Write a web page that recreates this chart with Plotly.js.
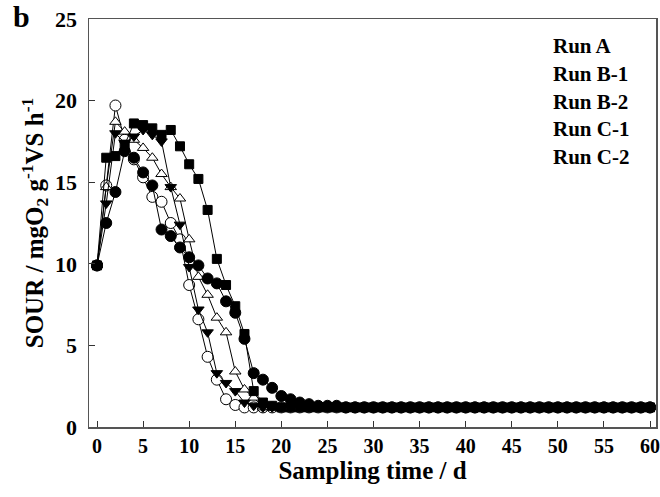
<!DOCTYPE html>
<html>
<head>
<meta charset="utf-8">
<script src="https://cdn.plot.ly/plotly-3.0.1.min.js"></script>
<style>html,body{margin:0;padding:0;background:#fff;}#chart{width:660px;height:497px;}</style>
</head>
<body>
<div id="chart"></div>
<script>
var days = [0,1,2,3,4,5,6,7,8,9,10,11,12,13,14,15,16,17,18,19,20,21,22,23,24,25,26,27,28,29,30,31,32,33,34,35,36,37,38,39,40,41,42,43,44,45,46,47,48,49,50,51,52,53,54,55,56,57,58,59,60];

var runA = [9.9,12.5,14.4,16.9,16.5,15.6,14.8,12.1,11.7,11.0,10.4,9.9,9.1,8.8,7.7,7.0,5.4,3.3,2.9,2.4,1.9,1.7,1.5,1.4,1.3,1.3,1.3,1.2,1.2,1.2,1.2,1.2,1.2,1.2,1.2,1.2,1.2,1.2,1.2,1.2,1.2,1.2,1.2,1.2,1.2,1.2,1.2,1.2,1.2,1.2,1.2,1.2,1.2,1.2,1.2,1.2,1.2,1.2,1.2,1.2,1.2];
var runB1 = [9.9,14.8,19.7,17.6,16.4,15.3,14.1,13.8,12.5,11.5,8.7,6.6,4.3,2.9,1.7,1.35,1.2,1.2,1.2,1.2,1.2,1.2,1.2,1.2,1.2,1.2,1.2,1.2,1.2,1.2,1.2,1.2,1.2,1.2,1.2,1.2,1.2,1.2,1.2,1.2,1.2,1.2,1.2,1.2,1.2,1.2,1.2,1.2,1.2,1.2,1.2,1.2,1.2,1.2,1.2,1.2,1.2,1.2,1.2,1.2,1.2];
var runB2 = [9.9,13.7,18.0,17.4,17.8,18.2,17.9,17.5,14.7,12.4,9.8,7.2,5.8,3.3,2.7,2.2,1.5,1.3,1.2,1.2,1.2,1.2,1.2,1.2,1.2,1.2,1.2,1.2,1.2,1.2,1.2,1.2,1.2,1.2,1.2,1.2,1.2,1.2,1.2,1.2,1.2,1.2,1.2,1.2,1.2,1.2,1.2,1.2,1.2,1.2,1.2,1.2,1.2,1.2,1.2,1.2,1.2,1.2,1.2,1.2,1.2];
var runC1 = [9.9,14.7,18.7,18.1,17.6,17.1,16.5,15.5,14.7,14.0,11.5,9.2,8.1,6.7,5.8,3.4,2.3,1.8,1.2,1.2,1.2,1.2,1.2,1.2,1.2,1.2,1.2,1.2,1.2,1.2,1.2,1.2,1.2,1.2,1.2,1.2,1.2,1.2,1.2,1.2,1.2,1.2,1.2,1.2,1.2,1.2,1.2,1.2,1.2,1.2,1.2,1.2,1.2,1.2,1.2,1.2,1.2,1.2,1.2,1.2,1.2];
var runC2 = [9.9,16.5,16.6,17.3,18.6,18.5,18.3,17.9,18.2,17.2,16.1,15.2,13.3,10.3,8.7,7.4,5.7,2.2,1.5,1.3,1.2,1.2,1.2,1.2,1.2,1.2,1.2,1.2,1.2,1.2,1.2,1.2,1.2,1.2,1.2,1.2,1.2,1.2,1.2,1.2,1.2,1.2,1.2,1.2,1.2,1.2,1.2,1.2,1.2,1.2,1.2,1.2,1.2,1.2,1.2,1.2,1.2,1.2,1.2,1.2,1.2];

var seriesNames = ["Run A","Run B-1","Run B-2","Run C-1","Run C-2"];
var xTicks = [0,5,10,15,20,25,30,35,40,45,50,55,60];
var yTicks = [0,5,10,15,20,25];

function tr(y, name, symbol, fill, size) {
  return {
    x: days, y: y, name: name, type: 'scatter', mode: 'lines+markers',
    line: {color: '#000', width: 1},
    marker: {symbol: symbol, size: size, color: fill, line: {color: '#000', width: 1}},
    showlegend: false
  };
}

var data = [
  tr(runB1, seriesNames[1], 'circle', '#fff', 11),
  tr(runC1, seriesNames[3], 'triangle-up', '#fff', 10),
  tr(runB2, seriesNames[2], 'triangle-down', '#000', 10),
  tr(runC2, seriesNames[4], 'square', '#000', 9),
  tr(runA, seriesNames[0], 'circle', '#000', 11)
];

var fontFam = '"Liberation Serif", "Times New Roman", serif';
var annotations = [{
  text: '<b>b</b>', xref: 'paper', yref: 'paper', x: -0.138, y: 1.052,
  xanchor: 'left', yanchor: 'top', showarrow: false,
  font: {family: fontFam, size: 30, color: '#000'}
}];
for (var i = 0; i < seriesNames.length; i++) {
  annotations.push({
    text: '<b>' + seriesNames[i] + '</b>', xref: 'paper', yref: 'paper',
    x: 0.814, y: 0.933 - i * 0.0678, xanchor: 'left', yanchor: 'middle',
    showarrow: false, font: {family: fontFam, size: 21, color: '#000'}
  });
}

var layout = {
  width: 660, height: 497,
  margin: {l: 89, r: 4, t: 19, b: 70},
  paper_bgcolor: '#fff', plot_bgcolor: '#fff',
  font: {family: fontFam, color: '#000'},
  xaxis: {
    range: [-0.87, 60.65], tickvals: xTicks, ticktext: xTicks.map(String),
    ticks: 'inside', ticklen: 6, tickcolor: '#333', tickwidth: 1,
    showline: true, linecolor: '#555', linewidth: 1.5, mirror: true,
    showgrid: false, zeroline: false, ticklabeloverflow: 'allow',
    tickfont: {family: fontFam, size: 20, color: '#000', weight: 'bold'},
    title: {text: '<b>Sampling time / d</b>', font: {family: fontFam, size: 25, color: '#000'}, standoff: 3}
  },
  yaxis: {
    range: [0, 25], tickvals: yTicks, ticktext: yTicks.map(String),
    ticks: 'inside', ticklen: 6, tickcolor: '#333', tickwidth: 1,
    showline: true, linecolor: '#555', linewidth: 1.5, mirror: true,
    showgrid: false, zeroline: false, ticklabeloverflow: 'allow',
    ticklabelstandoff: 6,
    tickfont: {family: fontFam, size: 22, color: '#000', weight: 'bold'},
    title: {text: '<b>SOUR / mgO<sub>2</sub> g<sup>-1</sup>VS h<sup>-1</sup></b>', font: {family: fontFam, size: 25, color: '#000'}, standoff: 4}
  },
  annotations: annotations,
  showlegend: false
};

Plotly.newPlot('chart', data, layout, {displayModeBar: false, staticPlot: true});
</script>
</body>
</html>
